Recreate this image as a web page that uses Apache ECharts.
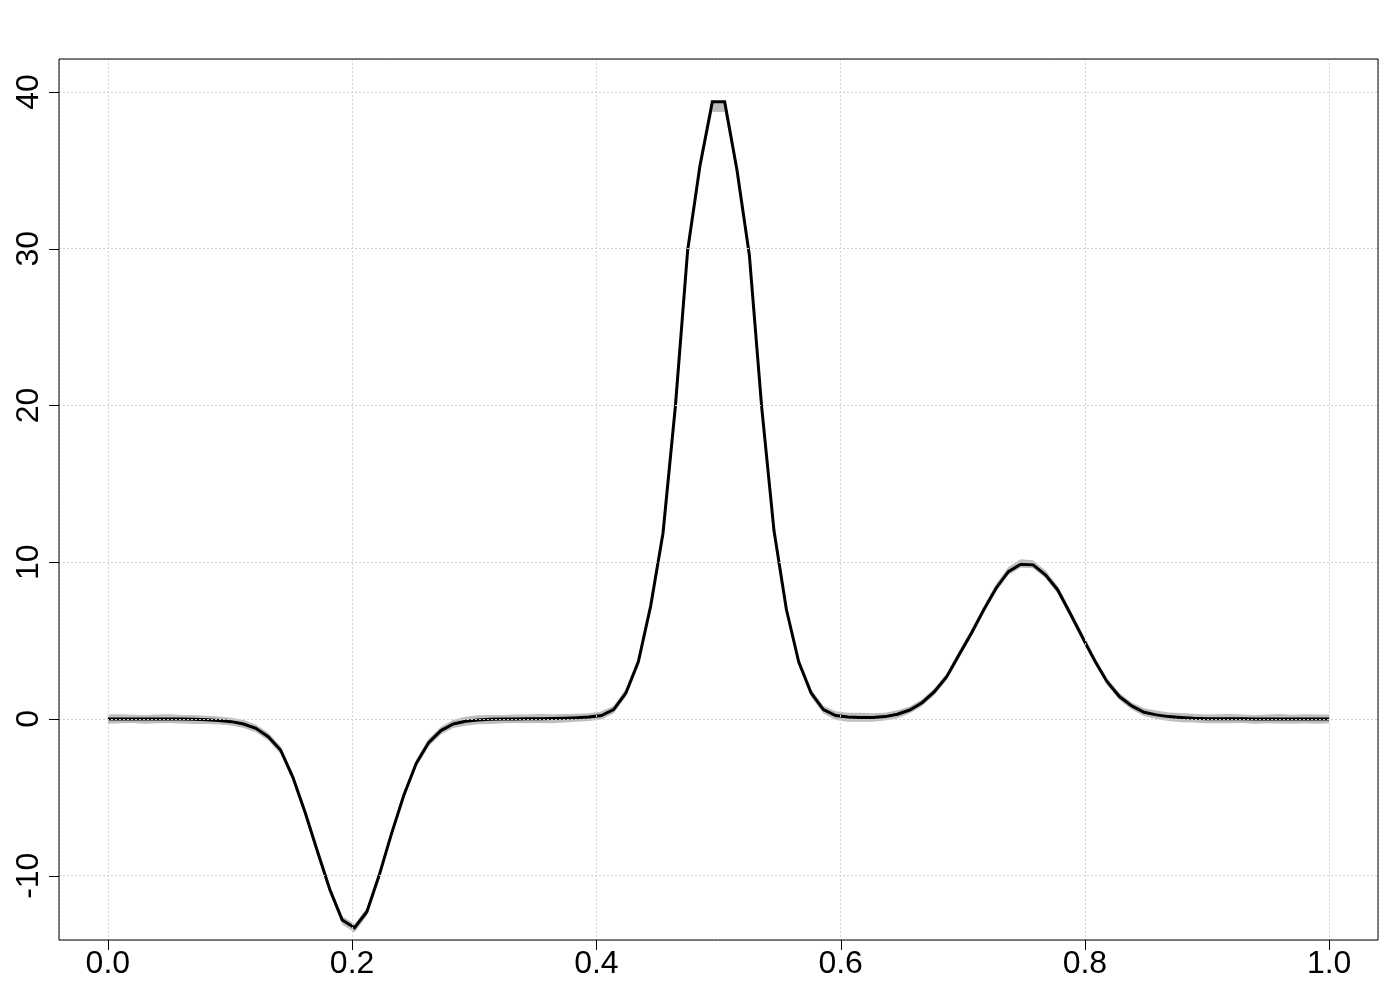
<!DOCTYPE html>
<html>
<head>
<meta charset="utf-8">
<title>curve</title>
<script src="https://cdn.jsdelivr.net/npm/echarts@6/dist/echarts.min.js"></script>
<style>
  html, body { margin: 0; padding: 0; background: #fff; }
  #chart { width: 1400px; height: 1000px; }
</style>
</head>
<body>
<div id="chart"></div>
<script>
// 100 sample points, evenly spaced from 0 to 1
var N = 100;

// fitted curve
var curve = [
  0.00, 0.00, 0.00, 0.00, 0.00, 0.00, -0.01, -0.02, -0.05, -0.10,
  -0.17, -0.32, -0.60, -1.13, -1.98, -3.72, -5.98, -8.47, -10.90, -12.83,
  -13.32, -12.30, -9.96, -7.30, -4.85, -2.83, -1.51, -0.74, -0.32, -0.15,
  -0.06, -0.02, 0.00, 0.00, 0.01, 0.02, 0.03, 0.05, 0.08, 0.12,
  0.22, 0.60, 1.67, 3.65, 7.20, 11.85, 19.90, 29.90, 35.30, 39.37,
  39.37, 35.00, 29.60, 19.90, 12.00, 7.00, 3.65, 1.67, 0.60, 0.22,
  0.12, 0.10, 0.10, 0.15, 0.30, 0.57, 1.04, 1.74, 2.70, 4.09,
  5.47, 6.96, 8.34, 9.40, 9.87, 9.83, 9.20, 8.23, 6.74, 5.21,
  3.72, 2.38, 1.43, 0.83, 0.43, 0.26, 0.15, 0.09, 0.04, 0.02,
  0.02, 0.01, 0.01, 0.00, 0.00, 0.00, 0.00, 0.00, 0.00, 0.00
];

// grey band: distance below / above the curve
var bandBelow = [
  0.30, 0.28, 0.26, 0.30, 0.27, 0.25, 0.28, 0.30, 0.27, 0.26,
  0.25, 0.25, 0.25, 0.25, 0.25, 0.25, 0.25, 0.25, 0.25, 0.28,
  0.30, 0.25, 0.25, 0.25, 0.25, 0.25, 0.25, 0.25, 0.26, 0.28,
  0.27, 0.30, 0.28, 0.26, 0.29, 0.27, 0.30, 0.28, 0.26, 0.25,
  0.25, 0.25, 0.25, 0.25, 0.25, 0.25, 0.25, 0.25, 0.30, 0.65,
  0.65, 0.30, 0.25, 0.25, 0.25, 0.25, 0.25, 0.25, 0.25, 0.28,
  0.30, 0.28, 0.27, 0.25, 0.25, 0.22, 0.22, 0.22, 0.22, 0.22,
  0.22, 0.22, 0.22, 0.22, 0.22, 0.22, 0.22, 0.22, 0.22, 0.22,
  0.22, 0.22, 0.22, 0.22, 0.25, 0.27, 0.28, 0.30, 0.27, 0.29,
  0.30, 0.28, 0.26, 0.30, 0.27, 0.29, 0.31, 0.28, 0.30, 0.27
];
var bandAbove = [
  0.28, 0.30, 0.27, 0.25, 0.29, 0.30, 0.26, 0.28, 0.25, 0.25,
  0.25, 0.25, 0.25, 0.25, 0.25, 0.25, 0.25, 0.25, 0.25, 0.25,
  0.25, 0.25, 0.25, 0.25, 0.25, 0.25, 0.25, 0.25, 0.27, 0.29,
  0.30, 0.27, 0.26, 0.29, 0.28, 0.30, 0.27, 0.26, 0.25, 0.25,
  0.25, 0.25, 0.25, 0.25, 0.25, 0.25, 0.25, 0.25, 0.10, 0.05,
  0.05, 0.10, 0.25, 0.25, 0.25, 0.25, 0.25, 0.25, 0.25, 0.27,
  0.28, 0.30, 0.26, 0.25, 0.25, 0.22, 0.22, 0.22, 0.22, 0.25,
  0.25, 0.25, 0.28, 0.30, 0.32, 0.30, 0.28, 0.25, 0.25, 0.25,
  0.22, 0.22, 0.22, 0.22, 0.25, 0.28, 0.27, 0.29, 0.30, 0.26,
  0.28, 0.30, 0.27, 0.26, 0.29, 0.31, 0.27, 0.30, 0.28, 0.29
];

var xTicks = [0, 0.2, 0.4, 0.6, 0.8, 1.0];
var yTicks = [-10, 0, 10, 20, 30, 40];

var X_MIN = -0.04, X_MAX = 1.04, Y_MIN = -14.1, Y_MAX = 42.1;

var xs = [];
for (var i = 0; i < N; i++) xs.push(i / (N - 1));

var curvePts = [];
for (var j = 0; j < N; j++) curvePts.push([xs[j], curve[j]]);

var font = 'Liberation Sans, Arial, sans-serif';
var gridLine = { show: true, lineStyle: { color: '#d3d3d3', width: 1, type: [2, 2] } };
var TICK = 10;

// band polygon: along the upper edge, back along the lower edge
function renderBand(params, api) {
  var pts = [];
  for (var k = 0; k < N; k++) pts.push(api.coord([xs[k], curve[k] + bandAbove[k]]));
  for (var k2 = N - 1; k2 >= 0; k2--) pts.push(api.coord([xs[k2], curve[k2] - bandBelow[k2]]));
  return { type: 'polygon', shape: { points: pts }, style: { fill: '#bebebe' } };
}

var chart = echarts.init(document.getElementById('chart'));
var option = {
  animation: false,
  backgroundColor: '#fff',
  grid: {
    left: 59, right: 22, top: 59, bottom: 60,
    show: true, borderColor: '#000', borderWidth: 1, z: 20
  },
  xAxis: {
    type: 'value', min: X_MIN, max: X_MAX, z: 10,
    axisLine: { show: false, onZero: false },
    axisTick: { show: false },
    axisLabel: {
      customValues: xTicks, margin: 8, color: '#000', fontSize: 32, fontFamily: font,
      backgroundColor: 'transparent',
      formatter: function (v) { return v.toFixed(1); }
    },
    splitLine: gridLine
  },
  yAxis: {
    type: 'value', min: Y_MIN, max: Y_MAX, z: 10,
    axisLine: { show: false, onZero: false },
    axisTick: { show: false },
    axisLabel: {
      customValues: yTicks, rotate: 90, margin: 14, color: '#000', fontSize: 32, fontFamily: font,
      backgroundColor: 'transparent'
    },
    splitLine: gridLine
  },
  series: [
    {
      type: 'custom', data: [[0, 0]], renderItem: renderBand, silent: true, z: 1
    },
    {
      type: 'line', data: curvePts, symbol: 'none', silent: true,
      lineStyle: { color: '#000', width: 3, join: 'miter' }, z: 3
    }
  ]
};
chart.setOption(option);

// outward ticks on the frame, placed through the axes' own scales
var ticks = [];
var yBottom = Math.round(chart.convertToPixel({ yAxisIndex: 0 }, Y_MIN));
var xLeft = Math.round(chart.convertToPixel({ xAxisIndex: 0 }, X_MIN));
xTicks.forEach(function (v) {
  var px = Math.round(chart.convertToPixel({ xAxisIndex: 0 }, v)) + 0.5;
  ticks.push({
    type: 'line', silent: true, z: 100,
    shape: { x1: px, y1: yBottom, x2: px, y2: yBottom + TICK },
    style: { stroke: '#000', lineWidth: 1 }
  });
});
yTicks.forEach(function (v) {
  var py = Math.round(chart.convertToPixel({ yAxisIndex: 0 }, v)) + 0.5;
  ticks.push({
    type: 'line', silent: true, z: 100,
    shape: { x1: xLeft - TICK, y1: py, x2: xLeft, y2: py },
    style: { stroke: '#000', lineWidth: 1 }
  });
});
chart.setOption({ graphic: { elements: ticks } });
</script>
</body>
</html>
